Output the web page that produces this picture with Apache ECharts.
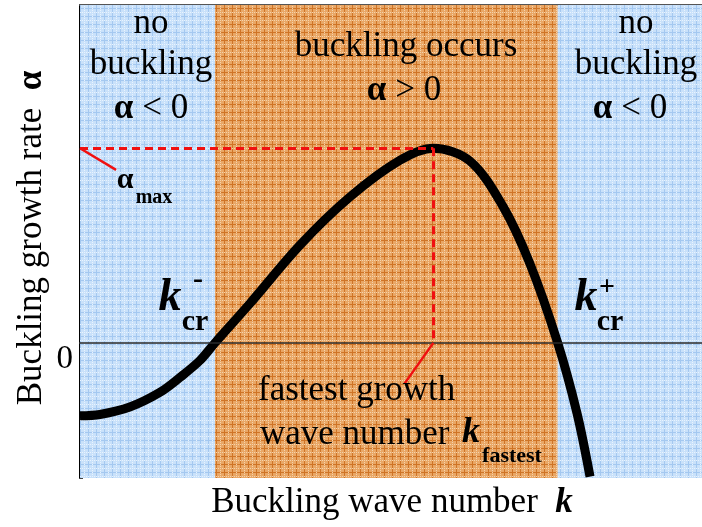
<!DOCTYPE html>
<html>
<head>
<meta charset="utf-8">
<script src="https://cdn.jsdelivr.net/npm/echarts@6/dist/echarts.min.js"></script>
<style>
  html, body { margin: 0; padding: 0; background: #fff; }
  #chart { width: 702px; height: 527px; }
</style>
</head>
<body>
<div id="chart"></div>
<script>
// growth rate curve alpha(k)
const kValues = [0.00, 0.32, 0.80, 1.29, 1.61, 1.93, 2.17, 2.73, 3.54, 4.34, 5.14, 5.68, 6.27, 6.80, 7.23, 7.68, 7.99, 8.20];
const alphaValues = [-1.08, -1.06, -0.95, -0.73, -0.51, -0.26, 0.00, 0.58, 1.45, 2.16, 2.70, 2.88, 2.69, 2.02, 1.18, 0.00, -1.04, -1.98];

// zone limits (k_cr-, k_cr+) and the maximum
const kRange = [0, 10];
const alphaRange = [-2, 5];
const kCrMinus = 2.17;
const kCrPlus = 7.68;
const kFastest = 5.68;
const alphaMax = 2.88;
// ends of the two little pointer lines
const alphaMaxPointer = [0.58, 2.56];
const kFastestPointer = [5.22, -0.60];

const serif = 'Liberation Serif';

function gridPattern(base, line, light) {
  const c = document.createElement('canvas');
  c.width = 8;
  c.height = 8;
  const g = c.getContext('2d');
  g.fillStyle = base;
  g.fillRect(0, 0, 8, 8);
  g.fillStyle = line;
  g.fillRect(0, 0, 8, 1);
  g.fillRect(0, 0, 1, 8);
  g.fillStyle = light;
  for (let i = 0; i < 8; i += 2) {
    g.fillRect(i, 4, 1, 1);
    g.fillRect(4, i, 1, 1);
  }
  return { image: c, repeat: 'repeat' };
}

const bluePat = gridPattern('#c9e1fa', '#a4c8f0', '#e8f3fe');
const orangePat = gridPattern('#e9a766', '#cf7426', '#f5d3ab');

function txt(x, y, text, size, extra, rotation) {
  const style = Object.assign({
    text: text,
    fontFamily: serif,
    fontSize: size,
    fill: '#000',
    textAlign: 'center',
    textVerticalAlign: 'middle',
    align: 'center',
    verticalAlign: 'middle',
    rich: {
      a: { fontFamily: serif, fontSize: size, fontWeight: 'bold' },
      k: { fontFamily: serif, fontSize: size, fontWeight: 'bold', fontStyle: 'italic' }
    }
  }, extra || {});
  return { type: 'text', x: x, y: y, rotation: rotation || 0, z: 100, style: style };
}

const chart = echarts.init(document.getElementById('chart'));

chart.setOption({
  animation: false,
  grid: { left: 80, right: 0, top: 5, bottom: 49 },
  xAxis: [
    {
      type: 'value',
      min: kRange[0],
      max: kRange[1],
      interval: 1,
      axisLine: { lineStyle: { color: '#333', width: 2 } },
      axisTick: { inside: true, length: 3, lineStyle: { color: '#555' } },
      axisLabel: { show: false },
      splitLine: { show: false }
    },
    {
      type: 'value',
      position: 'top',
      min: kRange[0],
      max: kRange[1],
      axisLine: { show: true, lineStyle: { color: '#555', width: 2 } },
      axisTick: { show: false },
      axisLabel: { show: false },
      splitLine: { show: false }
    }
  ],
  yAxis: {
    type: 'value',
    min: alphaRange[0],
    max: alphaRange[1],
    interval: 1,
    axisLine: { show: true, lineStyle: { color: '#000', width: 2 } },
    axisTick: { show: true, inside: true, length: 3, lineStyle: { color: '#444' } },
    axisLabel: {
      formatter: v => (v === 0 ? '0' : ''),
      fontFamily: serif,
      fontSize: 33,
      color: '#000',
      margin: 7,
      verticalAlign: 'top'
    },
    splitLine: { show: false }
  },
  series: [
    {
      name: 'zones',
      type: 'line',
      data: [],
      z: 1,
      markArea: {
        silent: true,
        data: [
          [{ xAxis: kRange[0], yAxis: alphaRange[0], itemStyle: { color: bluePat, opacity: 1 } }, { xAxis: kCrMinus, yAxis: alphaRange[1] }],
          [{ xAxis: kCrMinus, yAxis: alphaRange[0], itemStyle: { color: orangePat, opacity: 1 } }, { xAxis: kCrPlus, yAxis: alphaRange[1] }],
          [{ xAxis: kCrPlus, yAxis: alphaRange[0], itemStyle: { color: bluePat, opacity: 1 } }, { xAxis: kRange[1], yAxis: alphaRange[1] }]
        ]
      }
    },
    {
      name: 'zero',
      type: 'line',
      data: [],
      z: 2,
      markLine: {
        silent: true,
        symbol: 'none',
        label: { show: false },
        lineStyle: { color: '#2a2a2a', width: 1.6, type: 'solid' },
        data: [{ yAxis: 0 }]
      }
    },
    {
      name: 'alpha',
      type: 'line',
      z: 3,
      smooth: 0.33,
      showSymbol: false,
      lineStyle: { color: '#000', width: 9 },
      data: kValues.map((k, i) => [k, alphaValues[i]])
    },
    {
      name: 'guides',
      type: 'line',
      data: [],
      z: 4,
      markLine: {
        silent: true,
        symbol: 'none',
        label: { show: false },
        lineStyle: { color: '#f01010', width: 3, type: [8, 5] },
        data: [
          [{ coord: [kRange[0], alphaMax] }, { coord: [kFastest, alphaMax] }],
          [{ coord: [kFastest, alphaMax] }, { coord: [kFastest, 0] }],
          [{ coord: [kRange[0], alphaMax], lineStyle: { type: 'solid', width: 2.5 } }, { coord: alphaMaxPointer }],
          [{ coord: [kFastest, 0], lineStyle: { type: 'solid', width: 2.5 } }, { coord: kFastestPointer }]
        ]
      }
    }
  ],
  graphic: [
    // axis titles
    txt(32, 238, 'Buckling growth rate  {a|α}', 35, null, Math.PI / 2),
    txt(392, 503, 'Buckling wave number  {k|k}', 35),
    // left zone
    txt(151, 24, 'no', 35),
    txt(151, 65, 'buckling', 35),
    txt(151, 109, '{a|α} < 0', 35),
    // middle zone
    txt(406, 47, 'buckling occurs', 35),
    txt(404, 91, '{a|α} > 0', 35),
    // right zone
    txt(636, 24, 'no', 35),
    txt(636, 65, 'buckling', 35),
    txt(630, 109, '{a|α} < 0', 35),
    // alpha max
    txt(125, 180, 'α', 30, { fontWeight: 'bold' }),
    txt(154, 198, 'max', 20, { fontWeight: 'bold' }),
    // k_cr-
    txt(170, 298, 'k', 46, { fontWeight: 'bold', fontStyle: 'italic' }),
    txt(195, 322, 'cr', 30, { fontWeight: 'bold' }),
    txt(198, 280, '-', 30, { fontWeight: 'bold' }),
    // k_cr+
    txt(586, 298, 'k', 46, { fontWeight: 'bold', fontStyle: 'italic' }),
    txt(610, 322, 'cr', 30, { fontWeight: 'bold' }),
    txt(607, 288, '+', 28, { fontWeight: 'bold' }),
    // fastest growth
    txt(258, 391, 'fastest growth', 35, { textAlign: 'left', align: 'left' }),
    txt(260, 435, 'wave number', 35, { textAlign: 'left', align: 'left' }),
    txt(471, 433, 'k', 36, { fontWeight: 'bold', fontStyle: 'italic' }),
    txt(512, 456, 'fastest', 22, { fontWeight: 'bold' })
  ]
});
</script>
</body>
</html>
